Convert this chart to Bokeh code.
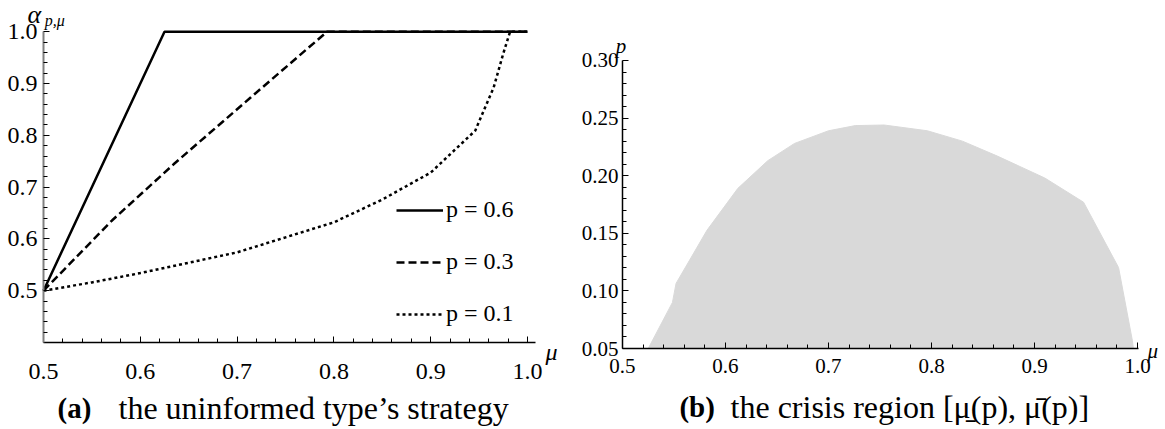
import numpy as np
from bokeh.plotting import figure
from bokeh.layouts import row
from bokeh.models import (FixedTicker, PrintfTickFormatter, Label, Range1d,
                          Legend, LegendItem)
from bokeh.embed import file_html
from bokeh.resources import INLINE

# ---------------- data ----------------
# panel (a): alpha_{p,mu} against mu
mu_p06 = [0.5, 0.625, 1.0]
alpha_p06 = [0.5, 1.0, 1.0]

mu_p03 = [0.5, 0.571, 0.635, 0.714, 0.793, 1.0]
alpha_p03 = [0.5, 0.636, 0.745, 0.873, 1.0, 1.0]

mu_p01 = [0.5, 0.55, 0.6, 0.7, 0.8, 0.85, 0.9, 0.946, 0.965, 0.975, 0.982, 1.0]
alpha_p01 = [0.5, 0.516, 0.534, 0.574, 0.632, 0.676, 0.728, 0.809, 0.892, 0.958, 1.0, 1.0]

legend_labels = ["p = 0.6", "p = 0.3", "p = 0.1"]

# panel (b): crisis region boundary (mu, p)
crisis_mu = [0.525, 0.5485, 0.552, 0.582, 0.612, 0.641, 0.667, 0.700, 0.726,
             0.754, 0.796, 0.830, 0.864, 0.910, 0.9476, 0.9816, 0.995, 0.996]
crisis_p = [0.05, 0.090, 0.1065, 0.1526, 0.189, 0.213, 0.228, 0.239, 0.2435,
            0.244, 0.239, 0.230, 0.217, 0.198, 0.177, 0.1203, 0.057, 0.05]

xticks_a = [0.5, 0.6, 0.7, 0.8, 0.9, 1.0]
yticks_a = [0.5, 0.6, 0.7, 0.8, 0.9, 1.0]
xticks_b = [0.5, 0.6, 0.7, 0.8, 0.9, 1.0]
yticks_b = [0.05, 0.10, 0.15, 0.20, 0.25, 0.30]

caption_a = ("(a)", "the uninformed type’s strategy")
caption_b = ("(b)", "the crisis region [μ\u0331(p), μ\u0304(p)]")

SERIF = "Liberation Serif"


def minor(lo, hi, step, majors):
    vals = np.round(np.arange(lo, hi + step / 2, step), 4)
    return [float(v) for v in vals if not any(abs(v - m) < 1e-6 for m in majors)]


def style_axis(ax, size, color="black", width=1.2):
    ax.axis_line_color = color
    ax.axis_line_width = width
    ax.major_tick_in = 6
    ax.major_tick_out = 0
    ax.minor_tick_in = 4
    ax.minor_tick_out = 0
    ax.major_tick_line_color = "black"
    ax.minor_tick_line_color = "black"
    ax.major_label_text_font = SERIF
    ax.major_label_text_font_size = f"{size}px"
    ax.major_label_text_color = "black"


def dlabel(fig, x, y, text, size, style="normal", align="left"):
    fig.add_layout(Label(x=x, y=y, text=text,
                         text_font=SERIF, text_font_style=style,
                         text_font_size=f"{size}px", text_color="black",
                         text_baseline="middle", text_align=align))


def base_fig(w, xr, yr):
    f = figure(width=w, height=429, output_backend="svg", toolbar_location=None,
               x_range=Range1d(*xr), y_range=Range1d(*yr),
               min_border_left=0, min_border_right=0, min_border_top=0,
               min_border_bottom=0)
    f.frame_align = False
    f.outline_line_color = None
    f.grid.visible = False
    f.background_fill_color = "white"
    f.border_fill_color = "white"
    return f


# ---------------- panel (a) ----------------
# frame covers the whole figure; axes are pinned with fixed_location
pa = base_fig(560, (0.45558, 1.03409), (0.23205, 1.06023))
pa.xaxis.fixed_location = 0.4
pa.yaxis.fixed_location = 0.5
pa.xaxis.bounds = (0.5, 1.0083)
pa.yaxis.bounds = (0.4, 1.0)
pa.xaxis.ticker = FixedTicker(ticks=xticks_a, minor_ticks=minor(0.5, 1.0, 0.02, xticks_a))
pa.yaxis.ticker = FixedTicker(ticks=yticks_a, minor_ticks=minor(0.42, 1.0, 0.02, yticks_a))
pa.xaxis.formatter = PrintfTickFormatter(format="%.1f")
pa.yaxis.formatter = PrintfTickFormatter(format="%.1f")
style_axis(pa.xaxis[0], 24, "black", 1.3)
style_axis(pa.yaxis[0], 24, "#808080", 2)
pa.xaxis.major_label_standoff = 21
pa.yaxis.major_label_standoff = 6

r1 = pa.line(mu_p06, alpha_p06, line_color="black", line_width=2.5)
r2 = pa.line(mu_p03, alpha_p03, line_color="black", line_width=2.5, line_dash="8 4")
r3 = pa.line(mu_p01, alpha_p01, line_color="black", line_width=2.5, line_dash="3 3")

leg = Legend(items=[LegendItem(label=legend_labels[0], renderers=[r1]),
                    LegendItem(label=legend_labels[1], renderers=[r2]),
                    LegendItem(label=legend_labels[2], renderers=[r3])],
             location=(396, 102), orientation="vertical",
             glyph_width=47, glyph_height=24, label_height=24, spacing=25,
             padding=0, margin=0, label_standoff=3,
             label_text_font=SERIF, label_text_font_size="24px",
             label_text_color="black",
             background_fill_alpha=0, border_line_color=None)
pa.add_layout(leg, "center")

dlabel(pa, 0.4835, 1.0332, "α", 26, "italic")
dlabel(pa, 0.5012, 1.0216, "p,μ", 16, "italic")
dlabel(pa, 1.0186, 0.3807, "μ", 24, "italic")
dlabel(pa, 0.5145, 0.2726, caption_a[0], 29, "bold")
dlabel(pa, 0.5775, 0.2726, caption_a[1], 32)

# ---------------- panel (b) ----------------
pb = base_fig(605, (0.43981, 1.02718), (-0.02031, 0.35208))
pb.xaxis.fixed_location = 0.05
pb.yaxis.fixed_location = 0.5
pb.xaxis.bounds = (0.5, 1.001)
pb.yaxis.bounds = (0.05, 0.30)
pb.xaxis.ticker = FixedTicker(ticks=xticks_b, minor_ticks=minor(0.5, 1.0, 0.02, xticks_b))
pb.yaxis.ticker = FixedTicker(ticks=yticks_b, minor_ticks=minor(0.05, 0.30, 0.01, yticks_b))
pb.xaxis.formatter = PrintfTickFormatter(format="%.1f")
pb.yaxis.formatter = PrintfTickFormatter(format="%.2f")
style_axis(pb.xaxis[0], 21, "black", 1.5)
style_axis(pb.yaxis[0], 21, "black", 1.5)
pb.xaxis.major_label_standoff = 10
pb.yaxis.major_label_standoff = 4

pb.patch(crisis_mu, crisis_p, fill_color="#d9d9d9", line_color="#d9d9d9",
         line_width=1, level="underlay")

dlabel(pb, 0.4985, 0.3130, "p", 21, "italic", "center")
dlabel(pb, 1.0097, 0.0474, "μ", 21, "italic")
dlabel(pb, 0.5553, -0.00035, caption_b[0], 29, "bold")
dlabel(pb, 0.6049, -0.00035, caption_b[1], 32)

layout = row(pa, pb, spacing=0)
open("out.html", "w").write(file_html(layout, INLINE))
